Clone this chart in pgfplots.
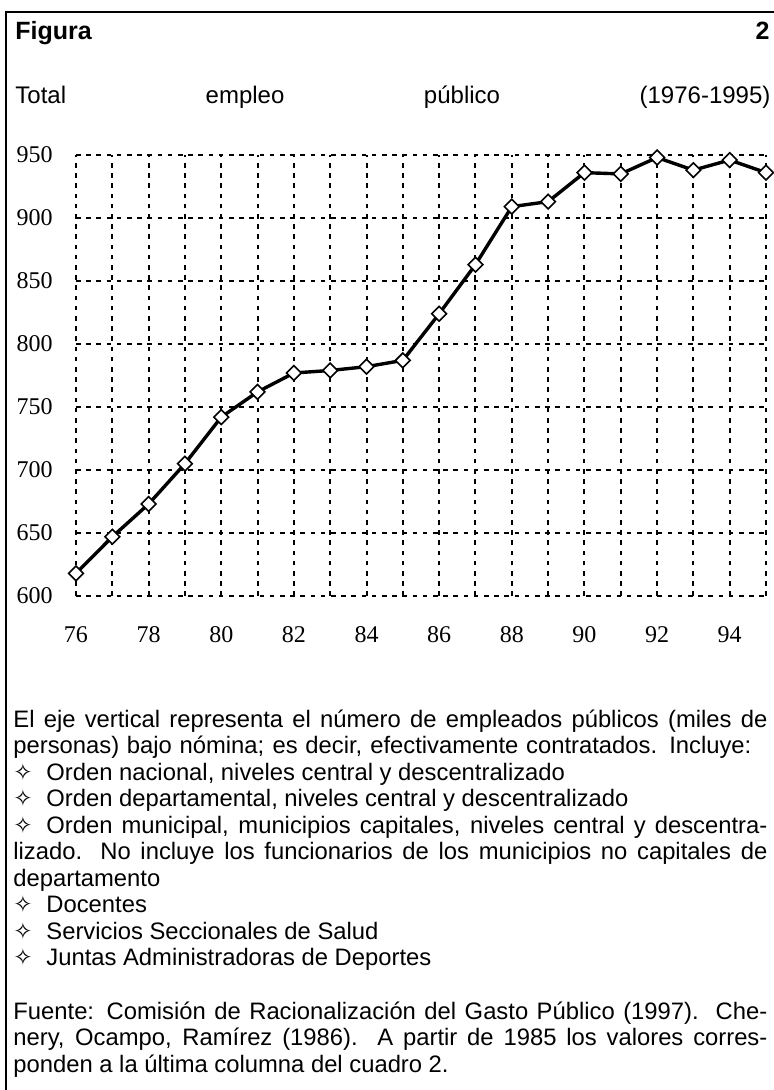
\documentclass[border=0pt]{standalone}
\usepackage{fontspec}
\setmainfont{Liberation Sans}
\newfontfamily\tnr{Liberation Serif}
\newfontfamily\djv{DejaVu Sans}
\usepackage{pgfplots}
\pgfplotsset{compat=1.18}
\newcommand{\bodyfont}{\fontsize{11.9}{14}\selectfont}
\newcommand{\bul}{\makebox[16.5pt][l]{\djv\fontsize{11.5}{12}\selectfont ✧}}
\newcommand{\jl}[2]{\node[anchor=base west, inner sep=0pt, font=\bodyfont] at (13,#1) {\makebox[377pt][s]{#2}};}
\newcommand{\nl}[2]{\node[anchor=base west, inner sep=0pt, font=\bodyfont] at (13,#1) {#2};}

\pgfplotstableread{
year value
76 618
77 647
78 673
79 705
80 742
81 762
82 777
83 779
84 782
85 787
86 824
87 863
88 909
89 913
90 936
91 935
92 948
93 938
94 946
95 936
}\empleo

\begin{document}
\begin{tikzpicture}[x=0.5pt,y=-0.5pt]
\useasboundingbox (0,0) rectangle (774,1090);
\draw[line width=1pt] (6,1090) -- (6,12) -- (774,12);
\node[anchor=base west, inner sep=0pt, font=\bfseries\fontsize{12.5}{15}\selectfont] at (15,40) {Figura};
\node[anchor=base east, inner sep=0pt, font=\bfseries\fontsize{12.5}{15}\selectfont] at (770,40) {2};
\node[anchor=base west, inner sep=0pt, font=\fontsize{12}{14}\selectfont] at (15,104) {\makebox[377.5pt][s]{Total empleo público (1976-1995)}};

\begin{axis}[
  at={(38pt,-298pt)}, anchor=south west,
  scale only axis, width=345pt, height=220.5pt,
  xmin=76, xmax=95, ymin=600, ymax=950,
  xtick={76,78,...,94}, minor xtick={77,79,...,95},
  ytick={600,650,...,950},
  grid=both,
  major grid style={black, line width=1pt, dash pattern=on 2.3pt off 2.8pt},
  minor grid style={black, line width=1pt, dash pattern=on 2.3pt off 2.8pt},
  axis line style={draw=none},
  major tick length=0pt, minor tick length=0pt,
  tick label style={font=\tnr\fontsize{12}{14}\selectfont, inner sep=0pt},
  /pgf/number format/assume math mode=true,
  yticklabel style={anchor=east, xshift=-11.5pt},
  xticklabel style={anchor=base, yshift=-23pt},
  clip=false,
]
\addplot[black, line width=1.7pt, mark=square*, mark size=2.6pt,
  mark options={fill=white, draw=black, line width=0.8pt, solid, rotate=45}]
  table[x=year, y=value] {\empleo};
\end{axis}

\jl{727}{El eje vertical representa el número de empleados públicos (miles de}
\node[anchor=base west, inner sep=0pt, font=\bodyfont] at (13,753) {\makebox[369pt][s]{personas) bajo nómina; es decir, efectivamente contratados. Incluye:}};
\nl{780}{\bul Orden nacional, niveles central y descentralizado}
\nl{806}{\bul Orden departamental, niveles central y descentralizado}
\jl{833}{\bul Orden municipal, municipios capitales, niveles central y descentra-}
\jl{859}{lizado. No incluye los funcionarios de los municipios no capitales de}
\nl{886}{departamento}
\nl{912}{\bul Docentes}
\nl{939}{\bul Servicios Seccionales de Salud}
\nl{965}{\bul Juntas Administradoras de Deportes}
\jl{1019}{Fuente: Comisión de Racionalización del Gasto Público (1997).\ \ Che-}
\jl{1045}{nery, Ocampo, Ramírez (1986).\ \ A partir de 1985 los valores corres-}
\nl{1072}{ponden a la última columna del cuadro 2.}
\end{tikzpicture}
\end{document}
